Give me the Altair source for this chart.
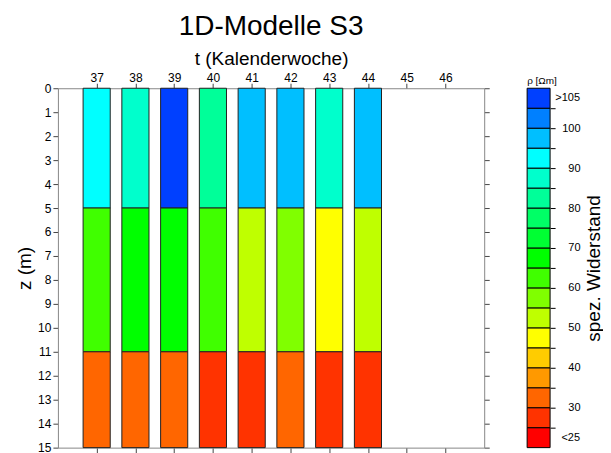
import altair as alt
import pandas as pd

# ---- data ----
weeks = [37, 38, 39, 40, 41, 42, 43, 44]
layer_top = [0, 5, 11]
layer_bottom = [5, 11, 15]
rho_layer1 = [92, 87, 107, 82, 97, 97, 87, 97]
rho_layer2 = [62, 67, 67, 62, 52, 57, 47, 52]
rho_layer3 = [32, 32, 32, 27, 27, 32, 27, 27]

week_ticks = [37, 38, 39, 40, 41, 42, 43, 44, 45, 46]
depth_ticks = list(range(0, 16))

thresholds = [25, 30, 35, 40, 45, 50, 55, 60, 65, 70, 75, 80, 85, 90, 95, 100, 105]
colors = ["#FF0000", "#FF3300", "#FF6600", "#FF9900", "#FFCC00", "#FFFF00",
          "#BFFF00", "#80FF00", "#40FF00", "#00FF00", "#00FF33", "#00FF66",
          "#00FF99", "#00FFCC", "#00FFFF", "#00BFFF", "#0080FF", "#0040FF"]
bin_lo = [20] + thresholds
bin_hi = thresholds + [110]
extra_labels = [">105", "<25"]
extra_pos = [107.5, 22.5]
unit_label = ["ρ [Ωm]"]

FONT = "Liberation Sans"

rows = []
for i, w in enumerate(weeks):
    for t, b, vals in zip(layer_top, layer_bottom, [rho_layer1, rho_layer2, rho_layer3]):
        rows.append({"week": w, "ztop": t, "zbot": b, "rho": vals[i]})
df = pd.DataFrame(rows)

cb_df = pd.DataFrame({"lo": bin_lo, "hi": bin_hi})
ext_df = pd.DataFrame({"label": extra_labels, "pos": extra_pos})
unit_df = pd.DataFrame({"t": unit_label})

color_scale = alt.Scale(type="threshold", domain=thresholds, range=colors)
xs = alt.Scale(domain=[36, 47], nice=False, zero=False)
ys = alt.Scale(domain=[0, 15], reverse=True, nice=False, zero=False)
cbs = alt.Scale(domain=[20, 110], nice=False, zero=False)

W, H = 427, 360
CB_X = 470
CB_W = 23

bars = alt.Chart(df).transform_calculate(
    x0="datum.week - 0.35", x1="datum.week + 0.35"
).mark_rect(stroke="#222222", strokeWidth=1).encode(
    x=alt.X("x0:Q", scale=xs, axis=alt.Axis(orient="top", values=week_ticks, title="t (Kalenderwoche)",
                                            titlePadding=3, labelPadding=-1, labelFlush=False)),
    x2="x1:Q",
    y=alt.Y("ztop:Q", scale=ys, axis=alt.Axis(orient="left", values=depth_ticks, title="z (m)",
                                              titlePadding=3)),
    y2="zbot:Q",
    color=alt.Color("rho:Q", scale=color_scale, legend=None),
)

frame = alt.Chart(df).transform_calculate(
    x0="datum.week - 0.35"
).mark_point(opacity=0).encode(
    x=alt.X("x0:Q", scale=xs, axis=alt.Axis(orient="bottom", values=week_ticks, labels=False, title=None)),
    y=alt.Y("ztop:Q", scale=ys, axis=alt.Axis(orient="right", values=depth_ticks, labels=False, title=None)),
)

cbar = alt.Chart(cb_df).transform_calculate(
    mid="(datum.lo + datum.hi) / 2"
).mark_rect(stroke="black", strokeWidth=1).encode(
    x=alt.value(CB_X), x2=alt.value(CB_X + CB_W),
    y=alt.Y("lo:Q", scale=cbs, axis=alt.Axis(
        orient="right", offset=CB_X + CB_W - W, values=thresholds,
        labelExpr="datum.value % 10 == 0 ? datum.label : ''",
        labelAlign="right", labelPadding=25, labelFontSize=11,
        tickColor="black", tickSize=5, domain=False,
        title="spez. Widerstand", titleAngle=270, titleBaseline="top", titlePadding=4)),
    y2="hi:Q",
    color=alt.Color("mid:Q", scale=color_scale, legend=None),
)

ext = alt.Chart(ext_df).mark_text(align="right", baseline="middle", fontSize=11, font=FONT).encode(
    x=alt.value(CB_X + CB_W + 30),
    y=alt.Y("pos:Q", scale=cbs, axis=None),
    text="label:N",
)

unit = alt.Chart(unit_df).mark_text(align="left", baseline="bottom", fontSize=10, font=FONT).encode(
    x=alt.value(CB_X), y=alt.value(-2), text="t:N",
)

chart = alt.layer(bars, frame, cbar, ext, unit).resolve_scale(
    x="independent", y="independent"
).properties(
    width=W, height=H,
    title=alt.TitleParams("1D-Modelle S3", fontSize=28, fontWeight="normal", font=FONT,
                          anchor="middle", frame="group", offset=8),
    padding={"left": 7, "top": 5, "right": 0, "bottom": 0},
).configure_view(stroke=None).configure_axis(
    labelFont=FONT, titleFont=FONT, labelFontSize=12, titleFontSize=19, titleFontWeight="normal",
    labelColor="black", titleColor="black", domainColor="#888888", tickColor="#444444",
    grid=False, tickSize=5, labelPadding=2,
)

chart.save("out.html", embed_options={"renderer": "svg", "actions": False})
